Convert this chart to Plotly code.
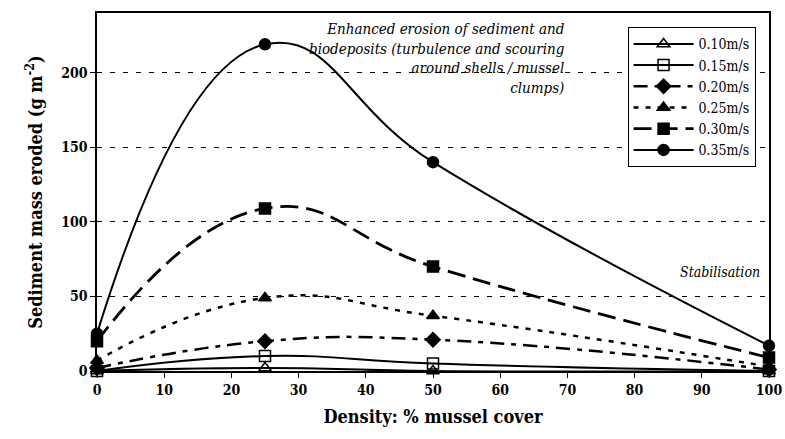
import plotly.graph_objects as go

density = [0, 25, 50, 100]
series_names = ["0.10m/s", "0.15m/s", "0.20m/s", "0.25m/s", "0.30m/s", "0.35m/s"]
v010 = [0, 2, 0, 0]
v015 = [0, 10, 5, 0]
v020 = [2, 20, 21, 1]
v025 = [7, 49, 37, 3]
v030 = [20, 109, 70, 9]
v035 = [25, 219, 140, 17]
values = [v010, v015, v020, v025, v030, v035]

symbols = ["triangle-up-open", "square-open", "diamond", "triangle-up", "square", "circle"]
dashes = ["solid", "solid", "14px,7px,5px,7px", "5px,7px", "18px,8px", "solid"]
widths = [2, 2, 2.5, 2.5, 2.8, 2]

fig = go.Figure()
for name, vals, sym, dsh, w in zip(series_names, values, symbols, dashes, widths):
    fig.add_trace(go.Scatter(
        x=density, y=vals, name=name, mode="lines+markers",
        line=dict(color="black", width=w, dash=dsh, shape="spline", smoothing=1.3),
        marker=dict(symbol=sym, size=11, color="black", line=dict(color="black", width=1.5)),
        cliponaxis=False,
    ))

serif = "DejaVu Serif Condensed, DejaVu Serif"
fig.update_layout(
    width=785, height=439,
    margin=dict(l=97, r=16, t=13, b=68),
    paper_bgcolor="white", plot_bgcolor="white",
    font=dict(family=serif, color="black", size=14),
    showlegend=True,
    legend=dict(x=0.98, xanchor="right", y=0.96, yanchor="top",
                bordercolor="black", borderwidth=1, bgcolor="white",
                font=dict(size=14, family=serif), tracegroupgap=0, itemwidth=60),
    xaxis=dict(range=[0, 100], tickvals=list(range(0, 101, 10)),
               ticks="outside", ticklen=5, tickcolor="black", automargin=False,
               showline=True, linecolor="black", linewidth=1.5, mirror=True,
               showgrid=False, zeroline=False,
               tickfont=dict(size=14, family=serif, weight="bold"),
               title=dict(text="<b>Density: % mussel cover</b>", font=dict(size=18, family=serif), standoff=14)),
    yaxis=dict(range=[0, 240], tickvals=[0, 50, 100, 150, 200],
               ticks="outside", ticklen=5, tickcolor="black", automargin=False,
               showline=True, linecolor="black", linewidth=1.5, mirror=True,
               showgrid=True, gridcolor="black", griddash="5px,8px", gridwidth=1,
               zeroline=False,
               tickfont=dict(size=14, family=serif, weight="bold"),
               title=dict(text="<b>Sediment mass eroded (g m<sup>-2</sup>)</b>", font=dict(size=18, family=serif), standoff=14)),
)

fig.add_annotation(x=0.70, xref="paper", y=0.985, yref="paper", xanchor="right", yanchor="top",
                   align="right", showarrow=False,
                   text="<i>Enhanced erosion of sediment and<br>biodeposits (turbulence and scouring<br>around shells / mussel<br>clumps)</i>",
                   font=dict(size=15, family=serif))
fig.add_annotation(x=0.99, xref="paper", y=0.277, yref="paper", xanchor="right", yanchor="middle",
                   showarrow=False, text="<i>Stabilisation</i>", font=dict(size=14, family=serif))

fig.write_html("out.html")
